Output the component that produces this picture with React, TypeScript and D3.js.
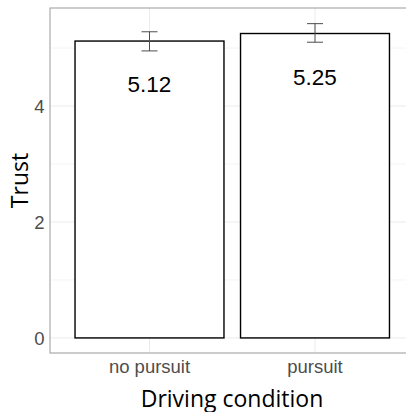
import React from "react";
import * as d3 from "d3";

const categories = ["no pursuit", "pursuit"];
const means = [5.12, 5.25];
const errLow = [4.95, 5.1];
const errHigh = [5.28, 5.42];
const yMajorTicks = [0, 2, 4];
const yMinorTicks = [1, 3, 5];

const W = 406;
const H = 412;
const panel = { left: 50, top: 8, bottom: 353 };

export default function App() {
  const x = d3.scalePoint<string>().domain(categories).range([149.5, 315]);
  const step = 315 - 149.5;
  const barW = step * 0.9;
  const panelRight = 315 + step * 0.6;
  const y = d3.scaleLinear().domain([-0.26, 5.69]).range([panel.bottom, panel.top]);
  const ebW = 16;

  return (
    <div style={{ position: "fixed", left: 0, top: 0 }}>
      <svg width={W} height={H} style={{ display: "block", background: "#fff" }}>
        <rect x={0} y={0} width={W} height={H} fill="#fff" />
        {/* minor grid */}
        {yMinorTicks.map((t) => (
          <line key={"mi" + t} x1={panel.left} x2={panelRight} y1={y(t)} y2={y(t)} stroke="#f4f4f4" strokeWidth={1} />
        ))}
        {/* major grid */}
        {yMajorTicks.map((t) => (
          <line key={"ma" + t} x1={panel.left} x2={panelRight} y1={y(t)} y2={y(t)} stroke="#ebebeb" strokeWidth={1} />
        ))}
        {categories.map((c) => (
          <line key={"gx" + c} x1={x(c)!} x2={x(c)!} y1={panel.top} y2={panel.bottom} stroke="#ebebeb" strokeWidth={1} />
        ))}
        {/* bars */}
        {categories.map((c, i) => (
          <rect
            key={"b" + c}
            x={x(c)! - barW / 2}
            y={y(means[i])}
            width={barW}
            height={y(0) - y(means[i])}
            fill="#fff"
            stroke="#000"
            strokeWidth={1.4}
          />
        ))}
        {/* error bars */}
        {categories.map((c, i) => (
          <g key={"e" + c} stroke="#4d4d4d" strokeWidth={1}>
            <line x1={x(c)!} x2={x(c)!} y1={y(errLow[i])} y2={y(errHigh[i])} />
            <line x1={x(c)! - ebW / 2} x2={x(c)! + ebW / 2} y1={y(errLow[i])} y2={y(errLow[i])} />
            <line x1={x(c)! - ebW / 2} x2={x(c)! + ebW / 2} y1={y(errHigh[i])} y2={y(errHigh[i])} />
          </g>
        ))}
        {/* value labels */}
        {categories.map((c, i) => (
          <text
            key={"v" + c}
            x={x(c)!}
            y={y(means[i]) + 51}
            textAnchor="middle"
            fontFamily="'Liberation Sans', Arial, sans-serif"
            fontSize={22.5}
            fill="#000"
          >
            {means[i].toFixed(2)}
          </text>
        ))}
        {/* panel border */}
        <rect x={panel.left} y={panel.top} width={panelRight - panel.left} height={panel.bottom - panel.top} fill="none" stroke="#999" strokeWidth={1} />
        {/* y tick labels */}
        {yMajorTicks.map((t) => (
          <text
            key={"yt" + t}
            x={44.5}
            y={y(t) + 6.6}
            textAnchor="end"
            fontFamily="'Liberation Sans', Arial, sans-serif"
            fontSize={18.5}
            fill="#4d4d4d"
          >
            {t}
          </text>
        ))}
        {/* x tick labels */}
        {categories.map((c) => (
          <text
            key={"xt" + c}
            x={x(c)!}
            y={373}
            textAnchor="middle"
            fontFamily="'Liberation Sans', Arial, sans-serif"
            fontSize={18.5}
            fill="#4d4d4d"
          >
            {c}
          </text>
        ))}
        {/* axis titles */}
        <text x={232} y={406.5} textAnchor="middle" fontFamily="'Open Sans', sans-serif" fontSize={23} fill="#000">
          Driving condition
        </text>
        <text
          transform={`translate(27.5, ${(panel.top + panel.bottom) / 2}) rotate(-90)`}
          textAnchor="middle"
          fontFamily="'Open Sans', sans-serif"
          fontSize={23}
          fill="#000"
        >
          Trust
        </text>
      </svg>
    </div>
  );
}
